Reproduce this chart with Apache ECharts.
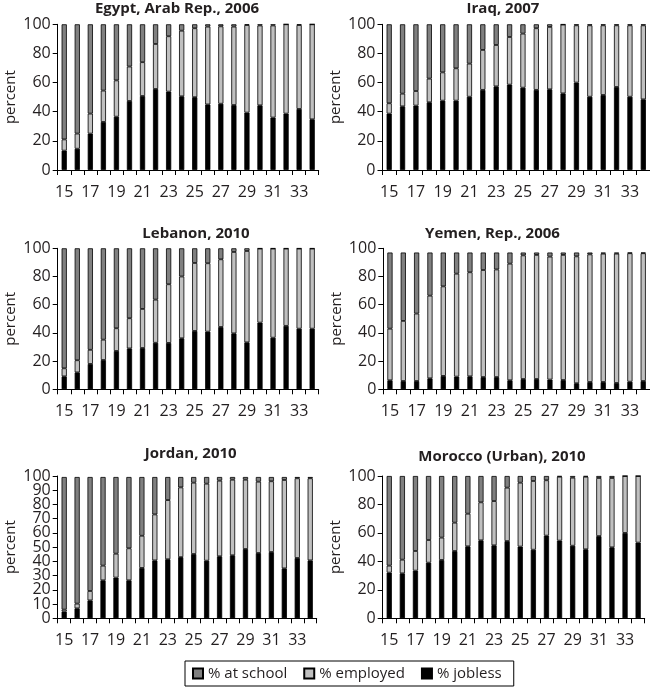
<!DOCTYPE html>
<html>
<head>
<meta charset="utf-8">
<script src="https://cdn.jsdelivr.net/npm/echarts@6/dist/echarts.min.js"></script>
<style>
html,body{margin:0;padding:0;background:#fff;}
#c{width:650px;height:689px;}
</style>
</head>
<body>
<div id="c"></div>
<script>
var ages = ['15','16','17','18','19','20','21','22','23','24','25','26','27','28','29','30','31','32','33','34'];
var seriesNames = ['% at school', '% employed', '% jobless'];

var titles = ['Egypt, Arab Rep., 2006', 'Iraq, 2007', 'Lebanon, 2010', 'Yemen, Rep., 2006', 'Jordan, 2010', 'Morocco (Urban), 2010'];

var egyptJobless   = [13.3,14.6,25.0,33.0,36.6,47.4,50.8,55.6,53.8,50.6,50.0,45.0,45.5,44.6,39.4,44.4,36.0,38.7,41.9,34.8];
var egyptEmployed  = [7.7,10.4,13.7,21.5,24.9,23.6,23.2,30.9,38.0,45.0,47.3,53.4,53.1,53.8,60.1,54.8,63.2,61.3,57.6,65.2];
var egyptSchool    = [79.0,75.0,61.3,45.5,38.5,29.0,26.0,13.5,8.2,4.4,2.7,1.6,1.4,1.6,0.5,0.8,0.8,0.0,0.5,0.0];

var iraqJobless    = [38.7,43.7,44.2,46.5,47.6,47.6,50.3,55.0,57.4,58.6,56.5,55.0,55.4,52.6,60.0,50.3,51.5,57.0,50.3,48.5];
var iraqEmployed   = [7.1,8.7,10.0,16.2,19.4,22.2,22.7,27.4,28.4,32.7,37.1,42.3,42.8,47.2,39.3,49.0,47.8,42.3,49.0,50.8];
var iraqSchool     = [54.2,47.6,45.8,37.3,33.0,30.2,27.0,17.6,14.2,8.7,6.4,2.7,1.8,0.2,0.7,0.7,0.7,0.7,0.7,0.7];

var lebanonJobless = [9.2,12.0,18.0,20.8,27.2,29.0,29.3,33.0,32.9,36.2,41.4,40.9,44.2,39.7,33.3,47.3,36.6,45.0,43.0,43.0];
var lebanonEmployed= [5.7,8.6,10.0,14.4,16.1,21.4,27.7,30.6,41.6,43.8,48.2,48.5,48.0,57.7,64.8,52.5,63.2,54.8,56.8,56.8];
var lebanonSchool  = [85.1,79.4,72.0,64.8,56.7,49.6,43.0,36.4,25.5,20.0,10.4,10.6,7.8,2.6,1.9,0.2,0.2,0.2,0.2,0.2];

var yemenJobless   = [6.4,5.9,5.9,7.8,9.5,9.0,9.2,8.7,8.7,6.4,7.3,7.3,6.9,6.6,4.3,5.2,5.2,4.5,5.4,5.9];
var yemenEmployed  = [36.6,42.6,47.8,58.6,63.5,73.0,73.8,75.9,76.3,82.7,87.7,88.0,87.2,88.7,90.0,90.5,91.0,91.7,91.1,90.6];
var yemenSchool    = [54.0,48.5,43.3,30.6,24.0,15.0,14.0,12.4,12.0,7.9,2.0,1.7,2.9,1.7,2.7,1.3,0.8,0.8,0.5,0.5];

var jordanJobless  = [4.7,7.0,12.6,26.7,28.6,26.7,35.4,40.7,41.5,43.0,45.2,40.5,43.6,44.3,48.7,45.9,46.6,35.1,42.4,40.7];
var jordanEmployed = [1.4,3.3,6.6,10.3,16.8,22.5,22.6,32.3,41.6,49.0,50.1,54.1,53.1,53.1,48.7,50.1,49.7,62.1,56.0,57.7];
var jordanSchool   = [93.2,89.0,80.1,62.3,53.9,50.1,41.3,26.3,16.2,7.3,4.0,4.7,2.6,1.9,1.9,3.3,3.0,2.1,0.9,0.9];

var moroccoJobless = [32.1,31.6,33.5,39.1,41.0,47.3,50.6,54.8,51.3,54.3,50.4,48.2,58.1,54.6,51.0,48.5,57.8,49.9,60.0,53.2];
var moroccoEmployed= [4.9,9.6,13.8,15.9,15.7,19.9,22.9,26.7,31.1,37.5,44.9,48.3,38.9,44.9,47.8,51.0,40.8,48.7,40.0,46.8];
var moroccoSchool  = [63.0,58.8,52.7,45.0,43.3,32.8,26.5,18.5,17.6,8.2,4.7,3.5,3.0,0.5,1.2,0.5,1.4,1.4,0.0,0.0];

var yInterval = [20, 20, 20, 20, 10, 20];

var panels = [
  {jobless: egyptJobless, employed: egyptEmployed, school: egyptSchool},
  {jobless: iraqJobless, employed: iraqEmployed, school: iraqSchool},
  {jobless: lebanonJobless, employed: lebanonEmployed, school: lebanonSchool},
  {jobless: yemenJobless, employed: yemenEmployed, school: yemenSchool},
  {jobless: jordanJobless, employed: jordanEmployed, school: jordanSchool},
  {jobless: moroccoJobless, employed: moroccoEmployed, school: moroccoSchool}
];

// layout (pixels)
var gridBoxes = [
  {left: 57.7, top: 24.3, width: 261, height: 145.7},
  {left: 382.5, top: 24.3, width: 267.5, height: 145.7},
  {left: 57.7, top: 248.3, width: 261, height: 141},
  {left: 383.3, top: 248.3, width: 266.6, height: 141},
  {left: 57.7, top: 476, width: 259, height: 142.3},
  {left: 382.7, top: 476, width: 262, height: 142.3}
];
var titlePos = [
  {x: 177, y: 8.3},
  {x: 503, y: 8.3},
  {x: 196, y: 233.3},
  {x: 492.5, y: 233.3},
  {x: 190.7, y: 453.3},
  {x: 502, y: 456.7}
];

var FONT = '"Open Sans", "Noto Sans", sans-serif';
var TXT = '#231f20';
var colSchool = '#808080', colEmp = '#c0c0c0', colJob = '#000000';

var grids = [], xAxes = [], yAxes = [], series = [], titleOpts = [];
panels.forEach(function (p, i) {
  var g = gridBoxes[i];
  var dense = yInterval[i] === 10;
  grids.push({left: g.left, top: g.top, width: g.width, height: g.height, containLabel: false});
  titleOpts.push({
    text: titles[i], left: titlePos[i].x, top: titlePos[i].y - 10, textAlign: 'center', padding: 0,
    textStyle: {fontFamily: FONT, fontWeight: 'bold', fontSize: 15, color: TXT, lineHeight: 20}
  });
  xAxes.push({
    type: 'category', gridIndex: i, data: ages, boundaryGap: true,
    axisLine: {show: true, lineStyle: {color: '#000', width: 1}},
    axisTick: {show: true, interval: 0, length: 5, inside: false, lineStyle: {color: '#000'}},
    axisLabel: {interval: 1, margin: 14, fontFamily: FONT, fontSize: 16, color: TXT},
    splitLine: {show: false}
  });
  yAxes.push({
    type: 'value', gridIndex: i, min: 0, max: 100, interval: yInterval[i],
    name: 'percent', nameLocation: 'middle', nameGap: 39, nameRotate: 90,
    nameTextStyle: {fontFamily: FONT, fontSize: 15, color: TXT},
    axisLine: {show: true, lineStyle: {color: '#000', width: 1}},
    axisTick: {show: true, length: 5, lineStyle: {color: '#000'}},
    axisLabel: {margin: 7, fontFamily: FONT, fontSize: 16, color: TXT,
      showMinLabel: true, showMaxLabel: true,
      formatter: dense ? function (v) { return (v % 20 === 0) ? String(v) : ''; } : '{value}'},
    splitLine: {show: false}
  });
  var common = {type: 'bar', xAxisIndex: i, yAxisIndex: i, stack: 's' + i, barWidth: 5.2};
  series.push(Object.assign({}, common, {name: '% jobless', data: p.jobless,
    itemStyle: {color: colJob, borderColor: '#000', borderWidth: 0.8}}));
  series.push(Object.assign({}, common, {name: '% employed', data: p.employed,
    itemStyle: {color: colEmp, borderColor: '#000', borderWidth: 0.8}}));
  series.push(Object.assign({}, common, {name: '% at school', data: p.school,
    itemStyle: {color: colSchool, borderColor: '#000', borderWidth: 0.8}}));
});
// companion axis carrying the odd-ten labels of the Jordan panel (10, 30, ... 90)
yAxes.push({
  type: 'value', gridIndex: 4, position: 'left', offset: 0, min: 0, max: 100, interval: 10,
  axisLine: {show: false}, axisTick: {show: false}, splitLine: {show: false},
  axisLabel: {margin: 7, fontFamily: FONT, fontSize: 16, color: TXT,
    showMinLabel: false, showMaxLabel: false,
    formatter: function (v) { return (v % 20 === 10) ? String(v) : ''; }}
});

var chart = echarts.init(document.getElementById('c'), null, {renderer: 'canvas'});
chart.setOption({
  animation: false,
  backgroundColor: '#fff',
  title: titleOpts,
  grid: grids,
  xAxis: xAxes,
  yAxis: yAxes,
  legend: {
    data: seriesNames,
    left: 185, top: 661,
    orient: 'horizontal',
    icon: 'rect',
    itemWidth: 10, itemHeight: 10, itemGap: 16,
    padding: [5, 12, 5, 7],
    borderColor: '#000', borderWidth: 1,
    textStyle: {fontFamily: FONT, fontSize: 15, color: TXT},
    selectedMode: false
  },
  series: series
});
</script>
</body>
</html>
